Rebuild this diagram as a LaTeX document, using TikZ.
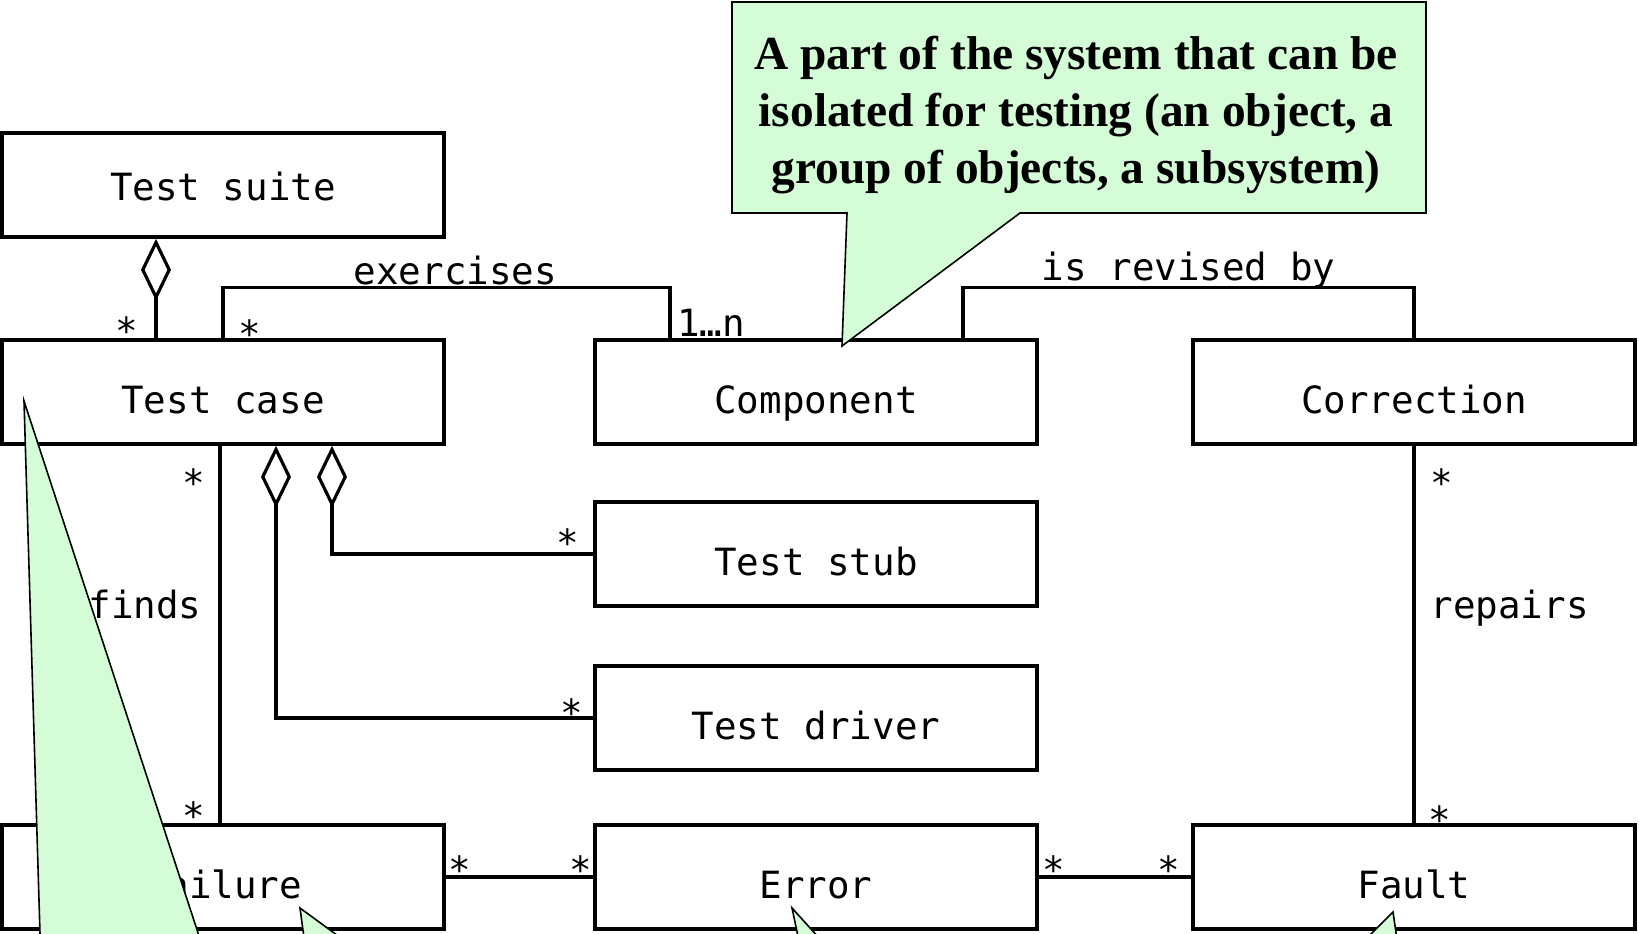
\documentclass[tikz,border=0pt]{standalone}
\usepackage{fontspec}
\setmainfont{Liberation Serif}
\setmonofont{DejaVu Sans Mono}
\usepackage{tikz}
\usetikzlibrary{arrows.meta}
\definecolor{notegreen}{RGB}{212,252,214}

\begin{document}
\begin{tikzpicture}[
    x=0.5pt, y=-0.5pt,
    cls/.style={
      rectangle, draw=black, line width=1.8pt, fill=white,
      minimum width=221pt, minimum height=52pt,
      text height=21pt, text depth=0pt,
      font=\fontsize{18.75}{22}\ttfamily
    },
    assoc/.style={line width=1.6pt},
    aggr/.style={line width=1.6pt, arrows={Diamond[open,length=31pt,width=15pt]-}},
    mult/.style={inner sep=0pt, font=\fontsize{18.75}{22}\ttfamily},
    role/.style={inner sep=0pt, font=\fontsize{18.75}{22}\ttfamily},
    note/.style={fill=notegreen, draw=black, line width=0.8pt},
    notetext/.style={align=center, inner sep=0pt,
      font=\fontsize{23.7}{28.5}\selectfont\bfseries}
  ]

  \useasboundingbox (0,0) rectangle (1639,933);
  \clip (0,0) rectangle (1639,933);

  %% Classes
  \node[cls, text height=15pt] (suite) at (223,185) {Test suite};
  \node[cls] (tcase)  at (223,392)  {Test case};
  \node[cls] (comp)   at (816,392)  {Component};
  \node[cls] (corr)   at (1414,392) {Correction};
  \node[cls] (stub)   at (816,554)  {Test stub};
  \node[cls] (driver) at (816,718)  {Test driver};
  \node[cls] (fail)   at (223,877)  {Failure};
  \node[cls] (err)    at (816,877)  {Error};
  \node[cls] (fault)  at (1414,877) {Fault};

  %% Aggregations
  \draw[aggr] ([xshift=-33.5pt]suite.south) -- ([xshift=-33.5pt]tcase.north);
  \draw[aggr] ([xshift=54.5pt]tcase.south) |- (stub.west);
  \draw[aggr] ([xshift=26.5pt]tcase.south) |- (driver.west);

  %% Associations
  \draw[assoc] (tcase.north) -- ++(0,25.5pt) -| ([xshift=-73pt]comp.north)
    node[role, pos=0.26, above=0.2pt] {exercises};
  \draw[assoc] ([xshift=73.5pt]comp.north) -- ++(0,25.5pt) -| (corr.north)
    node[role, pos=0.25, above=-1.5pt] {is revised by};
  \draw[assoc] ([xshift=-1.5pt]tcase.south) -- ([xshift=-1.5pt]fail.north)
    node[role, pos=0.42, left=8.5pt] {finds};
  \draw[assoc] (corr.south) -- (fault.north)
    node[role, pos=0.43, right=7.5pt] {repairs};
  \draw[assoc] (fail.east) -- (err.west);
  \draw[assoc] (err.east) -- (fault.west);

  %% Multiplicities
  \node[mult] (mSuite)  at (127,331)  {*};
  \node[mult] (mCase)   at (250,334)  {*};
  \node[mult] (mComp)   at (711,323)  {1…n};
  \node[mult] (mFindA)  at (194,483)  {*};
  \node[mult] (mFindB)  at (194,816)  {*};
  \node[mult] (mStub)   at (568,543)  {*};
  \node[mult] (mDriver) at (572,713)  {*};
  \node[mult] (mFailE)  at (460,870)  {*};
  \node[mult] (mErrL)   at (581,870)  {*};
  \node[mult] (mErrR)   at (1054,870) {*};
  \node[mult] (mFaultE) at (1169,870) {*};
  \node[mult] (mCorr)   at (1442,483) {*};
  \node[mult] (mFaultC) at (1440,820) {*};

  %% Callouts
  \draw[note] (24,401) -- (42,1000) -- (220,1000) -- cycle;
  \draw[note] (300,908) -- (307,960) -- (371,960) -- cycle;
  \draw[note] (792,908) -- (803,960) -- (839,960) -- cycle;
  \draw[note] (1393,912) -- (1345,960) -- (1400,960) -- cycle;

  \draw[note] (732,2) -- (1426,2) -- (1426,213) -- (1020,213)
    -- (842,346) -- (847,213) -- (732,213) -- cycle;
  \node[notetext] (compnote) at (1076,115)
    {A part of the system that can be\\isolated for testing (an object, a\\group of objects, a subsystem)};

\end{tikzpicture}
\end{document}
